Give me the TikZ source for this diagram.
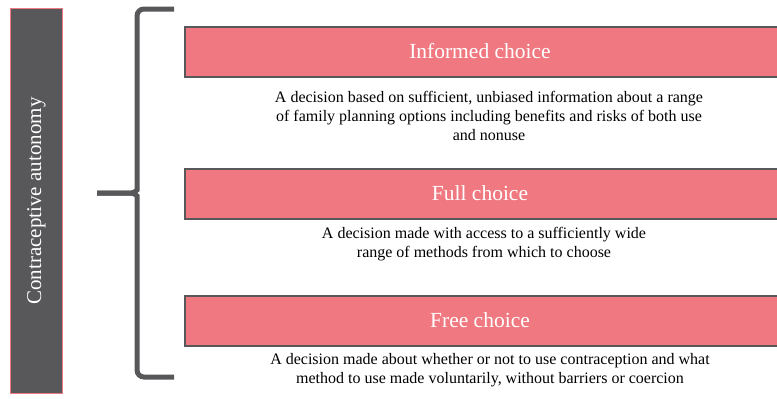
\documentclass[tikz,border=0pt]{standalone}
\usepackage{fontspec}
\setmainfont{Liberation Serif}
\usepackage{xcolor}

\definecolor{barpink}{HTML}{F07880}
\definecolor{darkgrey}{HTML}{58585A}

\tikzset{
    choicebar/.style={draw=darkgrey, line width=2pt, fill=barpink, anchor=north west,
                      minimum width=596pt, minimum height=50pt, inner sep=0pt},
    bartext/.style={text=white, font=\fontsize{21.5}{25}\selectfont},
    desc/.style={align=center, font=\fontsize{16}{19}\selectfont, inner sep=0pt},
    brace/.style={draw=darkgrey, line width=5pt, line cap=butt, rounded corners=7pt}
}

\begin{document}
\begin{tikzpicture}[x=1pt, y=-1pt]
    \useasboundingbox (0,0) rectangle (777,399);
    % left vertical box
    \node[draw=barpink, fill=darkgrey, line width=1pt, minimum width=52pt, minimum height=385pt,
          anchor=north west, inner sep=0pt] (autonomy) at (10,8) {};
    \node[rotate=90, text=white, font=\fontsize{21}{25}\selectfont] (autolabel) at (autonomy.center) {Contraceptive autonomy};
    % curly brace
    \coordinate (bracetop) at (174,9);
    \coordinate (bracetip) at (97,193);
    \coordinate (bracebot) at (174,377);
    \draw[brace] (bracetop) -- (137,9) -- (137,183)
        .. controls (137,190) and (134,193) .. (125,193) -- (bracetip);
    \draw[brace] (bracebot) -- (137,377) -- (137,203)
        .. controls (137,196) and (134,193) .. (125,193) -- (bracetip);
    % the three choices
    \node[choicebar] (informed) at (184,26) {};
    \node[bartext] at (480,51) {Informed choice};
    \node[desc] (informeddesc) at (489,116) {A decision based on sufficient, unbiased information about a range\\
        of family planning options including benefits and risks of both use\\ and nonuse};
    \node[choicebar] (full) at (184,168) {};
    \node[bartext] at (480,193) {Full choice};
    \node[desc] (fulldesc) at (484,244.5) {A decision made with access to a sufficiently wide\\
        range of methods from which to choose};
    \node[choicebar] (free) at (184,295) {};
    \node[bartext] at (480,320) {Free choice};
    \node[desc] (freedesc) at (490,370.5) {A decision made about whether or not to use contraception and what\\
        method to use made voluntarily, without barriers or coercion};
\end{tikzpicture}
\end{document}
